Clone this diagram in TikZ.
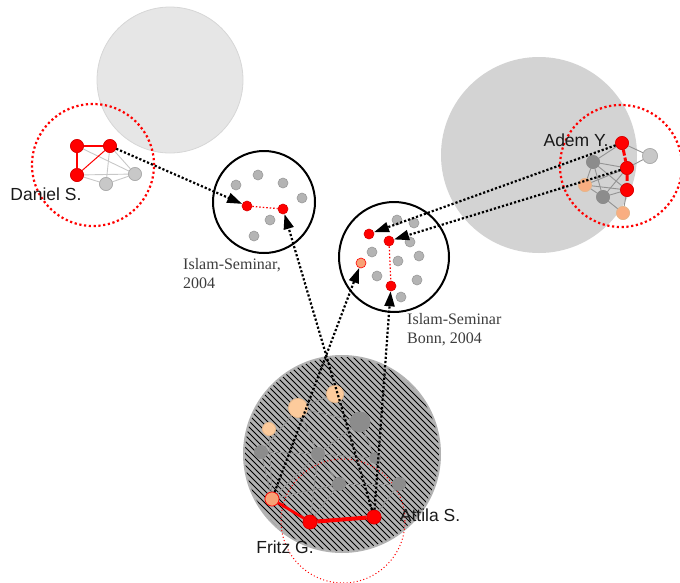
\documentclass[tikz,border=0pt]{standalone}
\usepackage{fontspec}
\setmainfont{Liberation Serif}
\setsansfont{Liberation Sans}
\usetikzlibrary{arrows.meta}
\definecolor{lgA}{HTML}{E6E6E6}
\definecolor{lgAb}{HTML}{D6D6D6}
\definecolor{lgB}{HTML}{D3D3D3}
\definecolor{hatchbg}{HTML}{B2B2B2}
\definecolor{nodegray}{HTML}{B4B4B4}
\definecolor{nodegrayb}{HTML}{9A9A9A}
\definecolor{darkgray2}{HTML}{8C8C8C}
\definecolor{lightnode}{HTML}{C8C8C8}
\definecolor{peach}{HTML}{FDCB9C}
\definecolor{orangeN}{HTML}{F7A276}
\definecolor{labelgray}{HTML}{3C3C3C}
\tikzset{
  nd/.style={circle, inner sep=0pt, line width=0.6pt},
  rn/.style={nd, fill=red, draw=red!85!black, minimum size=13pt},
  rs/.style={nd, fill=red, draw=red!85!black, minimum size=10pt},
  gs/.style={nd, fill=nodegray, draw=nodegrayb, minimum size=10pt},
  lgn/.style={nd, fill=lightnode, draw=lightnode!85!black, minimum size=13pt},
  dgn/.style={nd, fill=darkgray2, draw=darkgray2, minimum size=13pt},
  pn/.style={nd, fill=peach, draw=peach!90!black, minimum size=13pt},
  on/.style={nd, fill=orangeN, draw=red, minimum size=12pt},
  gedge/.style={draw=lightnode, line width=0.9pt},
  dedge/.style={draw=gray!85, line width=0.9pt},
  redthick/.style={draw=red, line width=2.6pt},
  arr/.style={draw=black, line width=2.2pt, dash pattern=on 2.2pt off 2pt,
     -{Triangle[length=15pt,width=10pt]}},
  seminar/.style={draw=black, line width=2pt, fill=white},
  reddots/.style={draw=red, line width=2.2pt, dash pattern=on 2.2pt off 2.6pt},
  redthin/.style={draw=red, line width=1pt, dash pattern=on 1pt off 2.4pt},
  nm/.style={font=\sffamily\fontsize{17.5}{20}\selectfont, text=black!90, inner sep=0pt},
  sl/.style={font=\rmfamily\fontsize{16}{19.5}\selectfont, text=labelgray, align=left, inner sep=0pt, anchor=north west}
}
\begin{document}
\begin{tikzpicture}[x=1pt,y=-1pt]
\useasboundingbox (0,0) rectangle (680,582);
% background gray circles
\fill[lgA, draw=lgAb, line width=0.8pt] (170,80) circle[radius=73pt];
\fill[lgB] (539,155) circle[radius=98pt];
% hatched circle
\fill[hatchbg] (342,454) circle[radius=99pt];
\begin{scope}
  \clip (342,454) circle[radius=97pt];
  \foreach \c in {-210,-204,...,210}
    \draw[black, line width=1pt] (342+\c-120,454-120) -- (342+\c+120,454+120);
\end{scope}
% red dotted circles
\draw[reddots] (93,165) circle[radius=61pt];
\draw[reddots] (621,166) circle[radius=61pt];
\draw[redthin] (343,521) circle[radius=62pt];

% Daniel network
\node[rn] (d1) at (77,146) {};
\node[rn] (d2) at (110,146) {};
\node[rn] (d3) at (77,175) {};
\node[lgn] (d4) at (106,184) {};
\node[lgn] (d5) at (135,174) {};
\draw[gedge] (d2) -- (d5);
\draw[gedge] (d2) -- (d4);
\draw[gedge] (d1) -- (d5);
\draw[gedge] (d3) -- (d5);
\draw[gedge] (d3) -- (d4);
\draw[gedge] (d4) -- (d5);
\draw[redthick] (d1) -- (d2);
\draw[redthick] (d1) -- (d3);
\draw[red, line width=1pt] (d3) -- (d2);
\node[rn] at (d1) {};
\node[rn] at (d2) {};
\node[rn] at (d3) {};
\node[lgn] at (d4) {};
\node[lgn] at (d5) {};
\node[nm] (danl) at (46,194) {Daniel S.};

% Adem network
\node[rn] (a1) at (622,143) {};
\node[rn] (a2) at (627,168) {};
\node[rn] (a3) at (627,190) {};
\node[lgn, minimum size=15pt] (a4) at (650,156) {};
\node[dgn] (a5) at (593,162) {};
\node[pn, fill=orangeN!70!peach] (a6) at (585,185) {};
\node[dgn] (a7) at (603,197) {};
\node[pn, fill=orangeN!70!peach] (a8) at (623,213) {};
\foreach \u/\v in {a1/a4,a2/a4,a1/a5,a5/a2,a5/a6,a5/a7,a6/a2,a6/a7,a7/a3,a7/a8,a3/a8,a7/a2,a6/a3,a5/a3}
  \draw[dedge] (\u) -- (\v);
\draw[draw=red, line width=3pt, dash pattern=on 6pt off 2pt] (a1) -- (a2) -- (a3);
\node[rn] at (a1) {};
\node[rn] at (a2) {};
\node[rn] at (a3) {};
\node[lgn, minimum size=15pt] at (a4) {};
\node[dgn] at (a5) {};
\node[pn, fill=orangeN!70!peach] at (a6) {};
\node[dgn] at (a7) {};
\node[pn, fill=orangeN!70!peach] at (a8) {};
\node[nm] (ademl) at (576,140) {Adem Y.};

% hatched network
\node[pn, minimum size=19pt] (h1) at (298,408) {};
\node[pn, minimum size=17pt] (h2) at (335,394) {};
\node[pn] (h3) at (269,429) {};
\node[dgn, minimum size=20pt] (h4) at (360,422) {};
\node[dgn] (h5) at (261,452) {};
\node[dgn] (h6) at (318,454) {};
\node[dgn, minimum size=11pt] (h7) at (375,458) {};
\node[dgn] (h8) at (339,484) {};
\node[dgn] (h9) at (399,484) {};
\node[on, minimum size=14pt] (ho) at (272,499) {};
\node[rn, minimum size=14pt] (fr) at (310,522) {};
\node[rn, minimum size=14pt] (at) at (374,517) {};
\foreach \u/\v in {h1/h2,h1/h4,h2/h4,h1/h6,h3/ho,h5/h6,h6/h7,h6/h8,h8/h9,ho/h8,fr/h8,at/h8,at/h9,h5/ho,h1/h5,h4/h7,h6/fr,ho/h6,h4/h6}
  \draw[dedge] (\u) -- (\v);
\draw[redthick, line width=2.8pt] (ho) -- (fr);
\draw[redthick, line width=4pt] (fr) -- (at);
\node[pn, minimum size=19pt] at (h1) {};
\node[pn, minimum size=17pt] at (h2) {};
\node[pn] at (h3) {};
\node[dgn, minimum size=20pt] at (h4) {};
\node[dgn] at (h5) {};
\node[dgn] at (h6) {};
\node[dgn, minimum size=11pt] at (h7) {};
\node[dgn] at (h8) {};
\node[dgn] at (h9) {};
\node[on, minimum size=14pt] at (ho) {};
\node[rn, minimum size=14pt] at (fr) {};
\node[rn, minimum size=14pt] at (at) {};
\node[nm] (frl) at (285,547) {Fritz G.};
\node[nm] (atl) at (430,515) {Attila S.};

% Seminar 1
\draw[seminar] (264,202) circle[radius=51pt];
\node[gs] (s1a) at (258,175) {};
\node[gs] (s1b) at (236,185) {};
\node[gs] (s1c) at (283,183) {};
\node[gs] (s1d) at (302,198) {};
\node[gs] (s1e) at (270,220) {};
\node[gs] (s1f) at (254,236) {};
\node[rs] (s1r1) at (247,206) {};
\node[rs] (s1r2) at (283,209) {};
\draw[red, line width=1.2pt, dash pattern=on 1.5pt off 2pt] (s1r1) -- (s1r2);
\node[sl] (s1l) at (183,258) {Islam-Seminar,\\2004};

% Seminar 2
\draw[seminar] (394,257) circle[radius=55pt];
\node[gs] (s2a) at (397,220) {};
\node[gs] (s2b) at (414,223) {};
\node[gs] (s2c) at (410,242) {};
\node[gs] (s2d) at (372,252) {};
\node[gs] (s2e) at (398,261) {};
\node[gs] (s2f) at (419,256) {};
\node[gs] (s2g) at (377,276) {};
\node[gs] (s2h) at (417,280) {};
\node[gs] (s2i) at (401,297) {};
\node[on, minimum size=10pt] (s2o) at (361,263) {};
\node[rs] (s2r1) at (369,234) {};
\node[rs] (s2r2) at (389,241) {};
\node[rs] (s2r3) at (391,286) {};
\draw[red, line width=1.2pt, dash pattern=on 1.5pt off 2pt] (s2r2) -- (s2r3);
\node[sl] (s2l) at (407,313) {Islam-Seminar\\Bonn, 2004};

% arrows
\draw[arr] (d2) -- (s1r1);
\draw[arr] (at) -- (s1r2);
\draw[arr] (ho) -- (s2o);
\draw[arr] (at) -- (s2r3);
\draw[arr] (a1) -- (s2r1);
\draw[arr] (a2) -- (s2r2);
\end{tikzpicture}
\end{document}
